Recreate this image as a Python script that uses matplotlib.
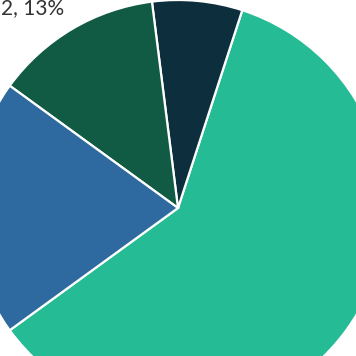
import matplotlib
matplotlib.use("Agg")
import matplotlib.pyplot as plt

categories = ["0", "1", "2", "3"]
shares = [60, 7, 13, 20]
colors = ["#25BB94", "#0D2F3D", "#115A43", "#2E6A9F"]

# the frame only shows part of the pie, so the centre sits off-middle
cx_px, cy_px, r_px = 178, 208, 208
size_px = 356

fig = plt.figure(figsize=(3.56, 3.56), dpi=100)
ax = fig.add_axes([0, 0, 1, 1])

labels = [f"{c}, {s}%" for c, s in zip(categories, shares)]
wedges, texts = ax.pie(
    shares,
    colors=colors,
    startangle=-144,
    counterclock=True,
    radius=1.0,
    labels=labels,
    labeldistance=1.25,
    wedgeprops=dict(edgecolor="white", linewidth=1.6),
    textprops=dict(fontsize=15, color="#333333", family="Lato"),
)

# only the label of slice "2" falls inside the frame
texts[2].set_position(((64 - cx_px) / r_px, (cy_px - 8) / r_px))
texts[2].set_verticalalignment("center")

ax.set_xlim(-cx_px / r_px, (size_px - cx_px) / r_px)
ax.set_ylim(-(size_px - cy_px) / r_px, cy_px / r_px)
ax.set_aspect("equal")
ax.axis("off")

fig.savefig("out.png", dpi=100)
